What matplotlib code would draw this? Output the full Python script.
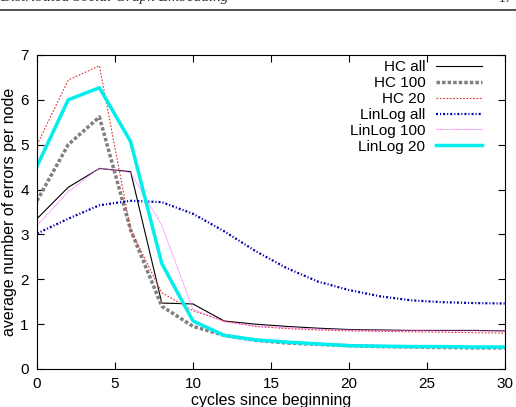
import matplotlib.pyplot as plt
import numpy as np

cycles = [0, 2, 4, 6, 8, 10, 12, 14, 16, 18, 20, 22, 24, 26, 28, 30]

hc_all = [3.35, 4.05, 4.47, 4.40, 1.47, 1.45, 1.07, 1.00, 0.95, 0.91, 0.88, 0.87, 0.86, 0.86, 0.86, 0.85]
hc_100 = [3.75, 5.0, 5.62, 3.1, 1.4, 0.95, 0.75, 0.64, 0.58, 0.55, 0.52, 0.50, 0.49, 0.48, 0.47, 0.47]
hc_20 = [5.0, 6.44, 6.76, 3.1, 1.7, 1.3, 1.07, 0.95, 0.90, 0.87, 0.85, 0.84, 0.83, 0.82, 0.81, 0.80]
linlog_all = [3.02, 3.35, 3.65, 3.75, 3.72, 3.46, 3.07, 2.63, 2.25, 1.95, 1.76, 1.62, 1.53, 1.49, 1.47, 1.46]
linlog_100 = [3.2, 3.95, 4.48, 4.38, 3.2, 1.33, 1.05, 0.96, 0.92, 0.89, 0.87, 0.86, 0.86, 0.85, 0.85, 0.85]
linlog_20 = [4.52, 6.0, 6.27, 5.07, 2.35, 1.07, 0.75, 0.65, 0.60, 0.56, 0.52, 0.51, 0.50, 0.50, 0.49, 0.49]

plt.rcParams['font.family'] = ['Liberation Sans', 'DejaVu Sans']

fig = plt.figure(figsize=(5.16, 4.07), dpi=100)
ax = fig.add_axes([37 / 516, 1 - 369 / 407, 468 / 516, 314 / 407])

ax.plot(cycles, hc_all, color='black', lw=0.8, label='HC all')
ax.plot(cycles, hc_100, color='#808080', lw=2.5, ls=(0, (1, 0.6)), label='HC 100')
ax.plot(cycles, hc_20, color='#e03030', lw=0.8, ls=(0, (1.5, 1.5)), label='HC 20')
ax.plot(cycles, linlog_all, color='#0000b0', lw=1.6, ls=(0, (0.9, 0.9, 0.5, 0.9)), label='LinLog all')
ax.plot(cycles, linlog_100, color='#ff66ff', lw=0.7, ls=(0, (1, 0.8)), label='LinLog 100')
ax.plot(cycles, linlog_20, color='#00eeee', lw=2.5, label='LinLog 20')

ax.set_xlim(0, 30)
ax.set_ylim(0, 7)
ax.set_xticks([0, 5, 10, 15, 20, 25, 30])
ax.set_yticks(range(8))
ax.tick_params(direction='in', top=True, right=True, labelsize=11, length=5, pad=6)
ax.set_xlabel('cycles since beginning', fontsize=11.5, labelpad=1)
ax.set_ylabel('average number of errors per node', fontsize=11.5, labelpad=2)

leg = ax.legend(loc='upper right', frameon=False, fontsize=11, markerfirst=False,
                handlelength=3.0, labelspacing=0.12, borderpad=0.1, borderaxespad=0.5,
                handletextpad=0.7, bbox_to_anchor=(0.97, 1.012))
for t in leg.get_texts():
    t.set_ha('right')

# page header, clipped at the top of the image
fig.text(0.0, 1 - 1.5 / 407, 'Distributed Social Graph Embedding', fontsize=11, style='italic',
         family='Liberation Serif', va='baseline', ha='left', color='#333333')
fig.text(0.995, 1 - 1.5 / 407, '17', fontsize=11, style='italic', family='Liberation Serif',
         va='baseline', ha='right', color='#333333')
fig.add_artist(plt.Line2D([0, 1], [1 - 10 / 407, 1 - 10 / 407], color='#333333', lw=1.2))

fig.savefig('out.png')
